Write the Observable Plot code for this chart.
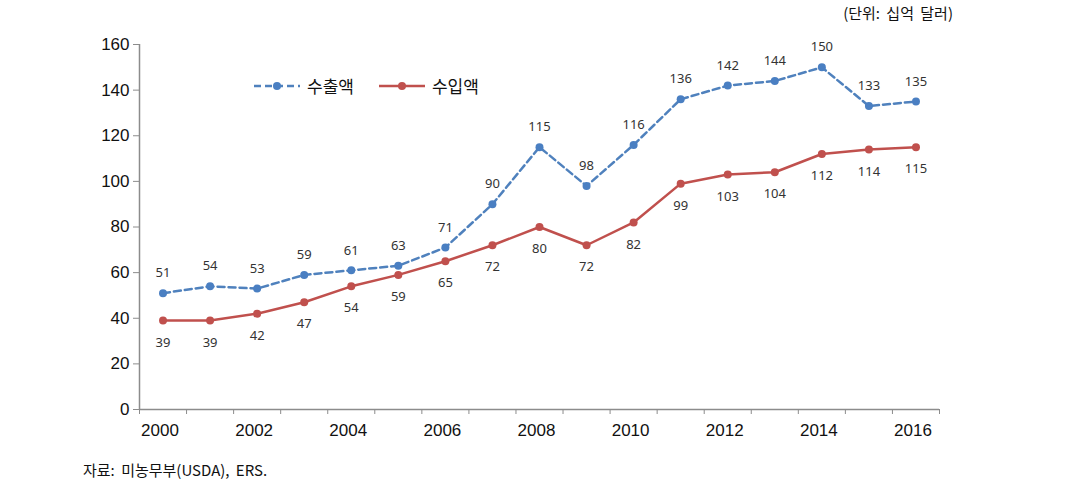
<!DOCTYPE html>
<html><head><meta charset="utf-8">
<script src="https://cdn.jsdelivr.net/npm/d3@7"></script>
<script src="https://cdn.jsdelivr.net/npm/@observablehq/plot@0.6"></script>
<style>
body{margin:0;background:#fff;font-family:"Noto Sans CJK KR","Noto Sans",sans-serif;}
#wrap{position:relative;width:1076px;height:484px;}
#unit{height:26px;line-height:26px;font-size:15px;color:#111;text-align:right;width:953px;word-spacing:3px;}
#cap{padding-top:14px;line-height:20px;font-size:15px;color:#111;padding-left:83px;word-spacing:3px;}
#legend{position:absolute;left:253px;top:73px;display:flex;align-items:center;font-size:17px;color:#111;}
#legend span{margin-right:24px;margin-left:6px;}
</style></head>
<body><div id="wrap">
<div id="unit">(단위: 십억 달러)</div>
<div id="chart"></div>
<div id="cap">자료: 미농무부(USDA), ERS.</div>
<div id="legend">
<svg width="48" height="20"><line x1="1" y1="10" x2="47" y2="10" stroke="#4f81bd" stroke-width="2.5" stroke-dasharray="7,4"/><circle cx="24" cy="10" r="4" fill="#4a7fc2"/></svg><span>수출액</span>
<svg width="48" height="20"><line x1="1" y1="10" x2="47" y2="10" stroke="#c0504d" stroke-width="2.5"/><circle cx="24" cy="10" r="4" fill="#c0504d"/></svg><span>수입액</span>
</div>
</div>
<script>
const years = [2000,2001,2002,2003,2004,2005,2006,2007,2008,2009,2010,2011,2012,2013,2014,2015,2016];
const exportsVal = [51,54,53,59,61,63,71,90,115,98,116,136,142,144,150,133,135];
const importsVal = [39,39,42,47,54,59,65,72,80,72,82,99,103,104,112,114,115];
const yearTicks = [2000,2002,2004,2006,2008,2010,2012,2014,2016];
const yTicks = [0,20,40,60,80,100,120,140,160];

const exp = years.map((y,i)=>({year:y, value:exportsVal[i]}));
const imp = years.map((y,i)=>({year:y, value:importsVal[i]}));
const bounds = years.map(y=>y-0.5).concat([years[years.length-1]+0.5]);

const blue = "#4f81bd", blueDot = "#4a7fc2", red = "#c0504d";
const axisFont = "'Liberation Sans', Arial, sans-serif";
const labFont = "'Noto Sans', sans-serif";

const chart = Plot.plot({
  width: 1076, height: 420,
  marginLeft: 139, marginRight: 137, marginTop: 18, marginBottom: 37,
  style: {fontFamily: axisFont, background: "#fff"},
  x: {type: "linear", domain: [bounds[0], bounds[bounds.length-1]], label: null},
  y: {domain: [0, 160], label: null},
  marks: [
    Plot.axisX(bounds, {tickSize: 5, tickFormat: () => "", stroke: "#8c8c8c", label: null}),
    Plot.axisX(yearTicks, {tickSize: 0, tickPadding: 14, tickFormat: d => String(d), fontSize: 17, fill: "#111", dx: -3, fontFamily: axisFont, label: null}),
    Plot.axisY(yTicks, {tickSize: 6, tickPadding: 4, fontSize: 17, stroke: "#8c8c8c", fill: "#111", fontFamily: axisFont, label: null}),
    Plot.ruleX([bounds[0]], {stroke: "#8c8c8c", strokeWidth: 1.5}),
    Plot.ruleY([0], {stroke: "#8c8c8c", strokeWidth: 1.5}),
    Plot.line(imp, {x: "year", y: "value", stroke: red, strokeWidth: 2.5}),
    Plot.dot(imp, {x: "year", y: "value", fill: red, r: 4}),
    Plot.line(exp, {x: "year", y: "value", stroke: blue, strokeWidth: 2.5, strokeDasharray: "7,4"}),
    Plot.dot(exp, {x: "year", y: "value", fill: blueDot, r: 4}),
    Plot.text(exp, {x: "year", y: "value", text: d => String(d.value), dy: -20, fontSize: 13, fill: "#333", fontFamily: labFont}),
    Plot.text(imp, {x: "year", y: "value", text: d => String(d.value), dy: 22, fontSize: 13, fill: "#333", fontFamily: labFont})
  ]
});
document.getElementById("chart").appendChild(chart);
</script>
</body></html>
